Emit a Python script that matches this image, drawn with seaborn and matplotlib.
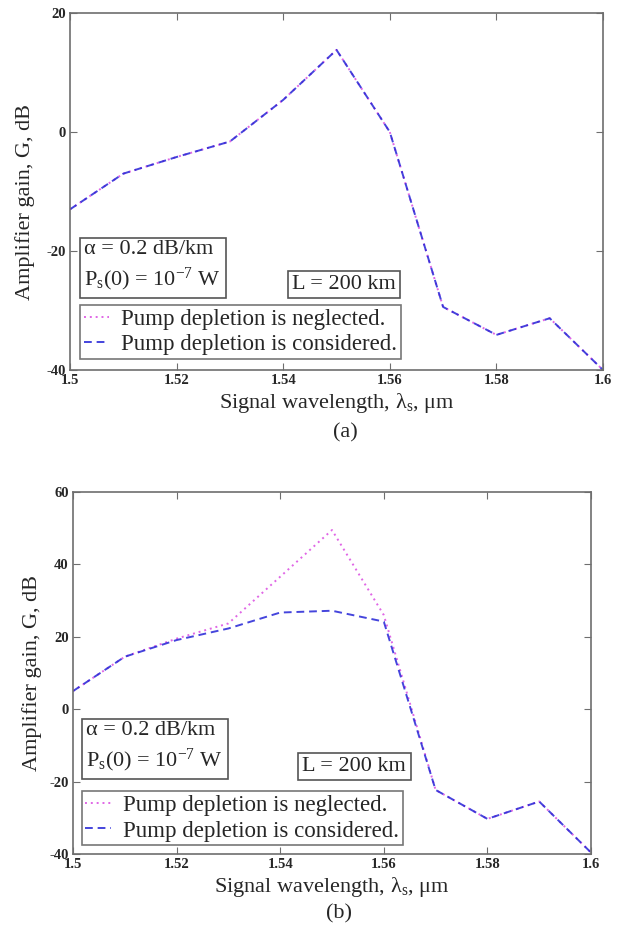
import numpy as np
import pandas as pd
import matplotlib
matplotlib.use("Agg")
import matplotlib.pyplot as plt
import seaborn as sns

# Signal wavelengths (um)
wavelength = [1.50, 1.51, 1.52, 1.53, 1.54, 1.55, 1.56, 1.57, 1.58, 1.59, 1.60]

# Panel (a): gain in dB
gain_a_neglected = [-13.0, -7.0, -4.2, -1.6, 5.4, 13.8, 0.0, -29.4, -34.1, -31.3, -40.0]
gain_a_considered = [-13.0, -7.0, -4.2, -1.6, 5.4, 13.8, 0.0, -29.4, -34.1, -31.3, -40.0]

# Panel (b): gain in dB
gain_b_neglected = [5.0, 14.5, 19.5, 23.7, 36.6, 49.5, 26.0, -22.3, -30.3, -25.5, -39.6]
gain_b_considered = [5.0, 14.5, 19.1, 22.3, 26.7, 27.2, 24.2, -22.3, -30.3, -25.5, -39.6]

x_ticks = [1.5, 1.52, 1.54, 1.56, 1.58, 1.6]
x_tick_labels = ["1.5", "1.52", "1.54", "1.56", "1.58", "1.6"]
y_ticks_a = [-40, -20, 0, 20]
y_ticks_b = [-40, -20, 0, 20, 40, 60]

label_neglected = "Pump depletion is neglected."
label_considered = "Pump depletion is considered."
panel_tags = ["(a)", "(b)"]

sns.set_style("ticks")
plt.rcParams["font.family"] = ["Liberation Serif", "DejaVu Serif"]
plt.rcParams["mathtext.fontset"] = "custom"
plt.rcParams["mathtext.rm"] = "Liberation Serif"
plt.rcParams["mathtext.it"] = "Liberation Serif:italic"

W, H = 631, 926
fig = plt.figure(figsize=(W / 100, H / 100), dpi=100)

COL_DOT = "#e066e6"
COL_DASH = "#2424d6"
SPINE = "#6e6e6e"
BOXEDGE = "#555555"
FS = 16
FS_LEG = 16.5


def px_axes(left, top, right, bottom):
    return fig.add_axes([left / W, 1 - bottom / H, (right - left) / W, (bottom - top) / H])


def draw_panel(ax, neglected, considered, yticks, ylim, ylab_xy, boxes):
    df = pd.DataFrame({
        "wl": wavelength * 2,
        "gain": neglected + considered,
        "case": [label_neglected] * len(wavelength) + [label_considered] * len(wavelength),
    })
    sns.lineplot(data=df[df["case"] == label_neglected], x="wl", y="gain", ax=ax,
                 color=COL_DOT, linestyle=(0, (1, 2)), linewidth=1.4,
                 label=label_neglected, legend=False)
    sns.lineplot(data=df[df["case"] == label_considered], x="wl", y="gain", ax=ax,
                 color=COL_DASH, linestyle=(0, (4, 2.5)), linewidth=1.4,
                 label=label_considered, legend=False, alpha=0.85)
    ax.set_xlim(1.5, 1.6)
    ax.set_ylim(*ylim)
    ax.set_xticks(x_ticks)
    ax.set_xticklabels(x_tick_labels)
    ax.set_yticks(yticks)
    ax.set_yticklabels([str(v) for v in yticks])
    ax.tick_params(direction="in", top=True, right=True, length=5, width=0.8,
                   color=SPINE, labelsize=10.5, pad=3)
    ax.tick_params(axis="x", labeltop=False)
    ax.tick_params(axis="y", labelright=False)
    for lab in ax.get_xticklabels() + ax.get_yticklabels():
        lab.set_fontweight("bold")
    for s in ax.spines.values():
        s.set_color(SPINE)
        s.set_linewidth(1.2)
    ax.set_xlabel("Signal wavelength, λ$_\\mathrm{s}$, μm", fontsize=FS, labelpad=3)
    ax.set_ylabel("Amplifier gain, G, dB", fontsize=FS, va="center")
    ax.yaxis.set_label_coords(*ylab_xy)

    leg_anchor, txt_pos, l_pos = boxes
    leg = ax.legend(loc="lower left", bbox_to_anchor=leg_anchor, fontsize=FS_LEG,
                    frameon=True, fancybox=False, edgecolor=BOXEDGE,
                    handlelength=1.1, handletextpad=0.55, borderpad=0.15,
                    labelspacing=0.2, borderaxespad=0)
    leg.get_frame().set_linewidth(1.2)
    bb = dict(boxstyle="square,pad=0.2", fc="white", ec=BOXEDGE, lw=1.2)
    ax.text(*txt_pos, "α = 0.2 dB/km\nP$_\\mathrm{s}$(0) = 10$^{-7}$ W", transform=ax.transAxes,
            ha="left", va="top", fontsize=FS, linespacing=1.35, bbox=bb)
    ax.text(*l_pos, "L = 200 km", transform=ax.transAxes, ha="left", va="top",
            fontsize=FS, bbox=bb)


ax_a = px_axes(70, 13, 603, 370)
draw_panel(ax_a, gain_a_neglected, gain_a_considered, y_ticks_a, (-40, 20),
           (-0.084, 0.47),
           ((0.019, 0.031), (0.027, 0.364), (0.417, 0.266)))
fig.text(345 / W, 1 - 433 / H, panel_tags[0], ha="center", va="center", fontsize=FS)

ax_b = px_axes(73, 492, 591, 854)
draw_panel(ax_b, gain_b_neglected, gain_b_considered, y_ticks_b, (-40, 60),
           (-0.079, 0.5),
           ((0.0174, 0.025), (0.026, 0.367), (0.443, 0.268)))
fig.text(339 / W, 1 - 914 / H, panel_tags[1], ha="center", va="center", fontsize=FS)

fig.savefig("out.png", dpi=100)
